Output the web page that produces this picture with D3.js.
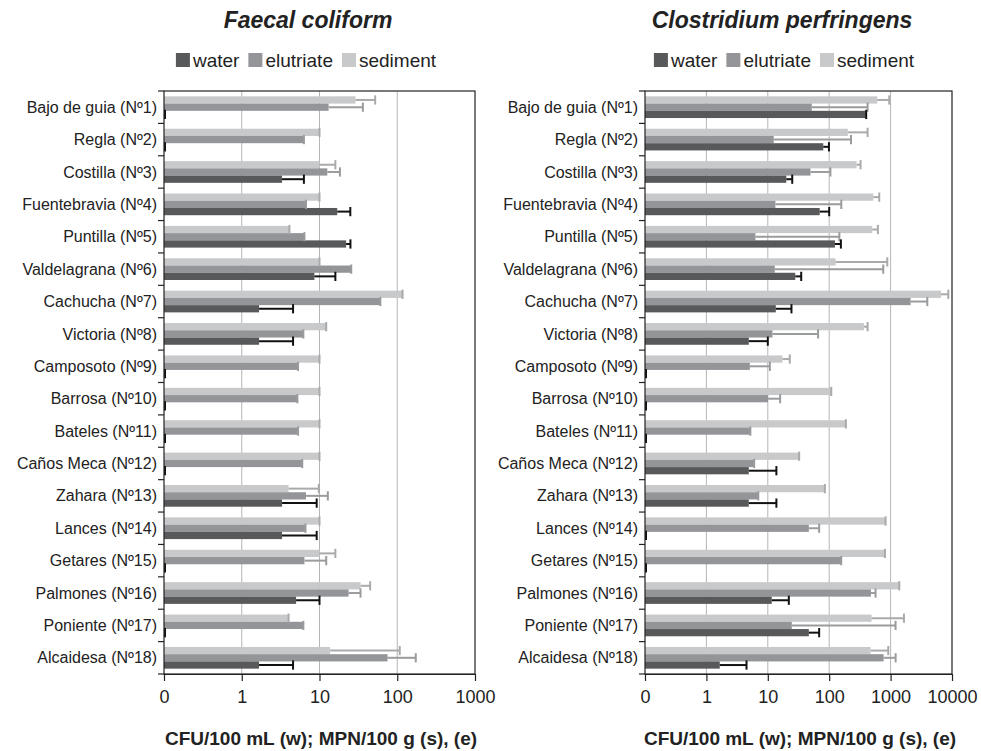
<!DOCTYPE html>
<html>
<head>
<meta charset="utf-8">
<script src="https://cdn.jsdelivr.net/npm/d3@7"></script>
<style>
  body { margin: 0; background: #fff; }
  svg { font-family: "Liberation Sans", Arial, sans-serif; }
</style>
</head>
<body>
<svg id="chart" width="981" height="751"></svg>
<script>
// Sampling sites (top to bottom)
const sites = [
  "Bajo de guia (Nº1)", "Regla (Nº2)", "Costilla (Nº3)", "Fuentebravia (Nº4)",
  "Puntilla (Nº5)", "Valdelagrana (Nº6)", "Cachucha (Nº7)", "Victoria (Nº8)",
  "Camposoto (Nº9)", "Barrosa (Nº10)", "Bateles (Nº11)", "Caños Meca (Nº12)",
  "Zahara (Nº13)", "Lances (Nº14)", "Getares (Nº15)", "Palmones (Nº16)",
  "Poniente (Nº17)", "Alcaidesa (Nº18)"
];

const seriesNames = ["water", "elutriate", "sediment"];

// Faecal coliform values and (upper) error sizes
const fcWater     = [0, 0, 3.3, 16.9, 22, 8.6, 1.67, 1.67, 0, 0, 0, 0, 3.3, 3.3, 0, 5.0, 0, 1.67];
const fcWaterErr  = [0, 0, 3.0, 8.0, 3.0, 7.4, 2.9, 2.9, 0, 0, 0, 0, 5.9, 5.9, 0, 5.0, 0, 2.9];
const fcElut      = [13.1, 6.3, 12.6, 6.7, 6.4, 25.6, 60.6, 6.2, 5.3, 5.2, 5.3, 6.0, 6.7, 6.6, 6.4, 23.7, 6.2, 75];
const fcElutErr   = [23, 0, 5.7, 0, 0, 0, 0, 0, 0, 0, 0, 0, 6.1, 0, 5.8, 10, 0, 98];
const fcSed       = [29, 10, 10, 10, 4.1, 10, 117, 12.2, 10, 10, 10, 10, 4.0, 10, 10, 33.8, 4.0, 13.7];
const fcSedErr    = [23, 0, 6, 0, 0, 0, 0, 0, 0, 0, 0, 0, 5.8, 0, 6, 11, 0, 94];

// Clostridium perfringens values and (upper) error sizes
const cpWater     = [391, 80, 20, 70, 124, 28, 13.5, 4.9, 0, 0, 0, 4.9, 4.9, 0, 0, 11.6, 46.6, 1.65];
const cpWaterErr  = [9, 19, 5, 30, 31, 7, 10.8, 5.1, 0, 0, 0, 8.9, 8.9, 0, 0, 10.4, 22, 2.85];
const cpElut      = [52, 12.5, 49.6, 13.3, 6.3, 13, 2120, 11.9, 5.1, 10.1, 5.2, 6.0, 7.0, 46.6, 157, 478, 24.6, 769];
const cpElutErr   = [370, 214, 55, 144, 140, 746, 1840, 54, 5.7, 5.8, 0, 0, 0, 22, 0, 91, 1180, 438];
const cpSed       = [607, 201, 279, 522, 502, 127, 6620, 367, 17.3, 108, 187, 32.4, 85, 829, 809, 1385, 490, 472];
const cpSedErr    = [344, 221, 45, 131, 119, 756, 2090, 55, 5.5, 0, 0, 0, 0, 0, 0, 0, 1160, 444];

const fcTicks = [0.1, 1, 10, 100, 1000];
const cpTicks = [0.1, 1, 10, 100, 1000, 10000];

const axisTitle = "CFU/100 mL (w); MPN/100 g (s), (e)";

const COLORS = { water: "#58595b", elutriate: "#939598", sediment: "#c8c9cb" };
const ERR_COLORS = { water: "#111", elutriate: "#9a9b9d", sediment: "#a9aaac" };

const svg = d3.select("#chart");
const plotTop = 91, plotBottom = 674;

function buildRows(w, we, e, ee, s, se) {
  return sites.map((site, i) => ({
    site: site,
    values: [
      { key: "sediment", v: s[i], err: se[i] },
      { key: "elutriate", v: e[i], err: ee[i] },
      { key: "water", v: w[i], err: we[i] }
    ]
  }));
}

function drawPanel(opt) {
  const g = svg.append("g");

  const x = d3.scaleLog().domain([opt.ticks[0], opt.ticks[opt.ticks.length - 1]])
    .range([opt.x0, opt.x1]).clamp(true);
  const y = d3.scaleBand().domain(sites).range([plotTop, plotBottom])
    .paddingInner(0.33).paddingOuter(0.165);
  const ySub = d3.scaleBand().domain(["sediment", "elutriate", "water"])
    .range([0, y.bandwidth()]);
  const step = y.step();

  // gridlines
  g.selectAll(".grid").data(opt.ticks.slice(1, -1)).enter().append("line")
    .attr("x1", d => x(d)).attr("x2", d => x(d))
    .attr("y1", plotTop).attr("y2", plotBottom)
    .attr("stroke", "#b5b5b5").attr("stroke-width", 1);

  // bars
  const rowG = g.selectAll(".row").data(opt.rows).enter().append("g")
    .attr("transform", d => `translate(0,${y(d.site)})`);

  rowG.selectAll("rect").data(d => d.values).enter().append("rect")
    .attr("x", opt.x0)
    .attr("y", d => ySub(d.key))
    .attr("height", ySub.bandwidth())
    .attr("width", d => d.v > 0 ? x(d.v) - opt.x0 : 0)
    .attr("fill", d => COLORS[d.key]);

  // error bars (upper only)
  const err = rowG.selectAll(".err").data(d => d.values).enter().append("g");
  err.append("line")
    .attr("x1", d => d.v > 0 ? x(d.v) : opt.x0)
    .attr("x2", d => d.v + d.err > 0 ? x(d.v + d.err) : opt.x0)
    .attr("y1", d => ySub(d.key) + ySub.bandwidth() / 2)
    .attr("y2", d => ySub(d.key) + ySub.bandwidth() / 2)
    .attr("stroke", d => ERR_COLORS[d.key]).attr("stroke-width", 2);
  err.append("line")
    .attr("x1", d => d.v + d.err > 0 ? x(d.v + d.err) : opt.x0 + 1)
    .attr("x2", d => d.v + d.err > 0 ? x(d.v + d.err) : opt.x0 + 1)
    .attr("y1", d => ySub(d.key) - 1)
    .attr("y2", d => ySub(d.key) + ySub.bandwidth() + 1)
    .attr("stroke", d => ERR_COLORS[d.key]).attr("stroke-width", 2);

  // frame
  g.append("rect")
    .attr("x", opt.x0).attr("y", plotTop)
    .attr("width", opt.x1 - opt.x0).attr("height", plotBottom - plotTop)
    .attr("fill", "none").attr("stroke", "#222").attr("stroke-width", 1.2);

  // category ticks on the left
  g.selectAll(".ytick").data(d3.range(sites.length + 1)).enter().append("line")
    .attr("x1", opt.x0 - 6).attr("x2", opt.x0)
    .attr("y1", i => plotTop + i * step).attr("y2", i => plotTop + i * step)
    .attr("stroke", "#222").attr("stroke-width", 1.2);

  g.selectAll(".ylab").data(sites).enter().append("text")
    .attr("x", opt.x0 - 7)
    .attr("y", d => y(d) + y.bandwidth() / 2)
    .attr("dy", "0.35em")
    .attr("text-anchor", "end")
    .attr("font-size", 16).attr("fill", "#222")
    .text(d => d);

  // x axis
  const xAxis = d3.axisBottom(x).tickValues(opt.ticks)
    .tickFormat(d => d < 1 ? "0" : d3.format("d")(d))
    .tickSize(7).tickPadding(9).tickSizeOuter(0);
  const ax = g.append("g").attr("transform", `translate(0,${plotBottom})`).call(xAxis);
  ax.select(".domain").attr("stroke", "#222").attr("stroke-width", 1.2);
  ax.selectAll(".tick line").attr("stroke", "#222").attr("stroke-width", 1.2);
  ax.selectAll(".tick text").attr("font-size", 18).attr("fill", "#222")
    .attr("font-family", "'Liberation Sans', Arial, sans-serif");

  g.append("text")
    .attr("x", (opt.x0 + opt.x1) / 2 + 1.5).attr("y", 745)
    .attr("text-anchor", "middle")
    .attr("font-size", 19).attr("font-weight", "bold").attr("fill", "#222")
    .text(axisTitle);

  // title
  g.append("text")
    .attr("x", opt.titleX).attr("y", 28)
    .attr("text-anchor", "middle")
    .attr("font-size", 23).attr("font-weight", "bold").attr("font-style", "italic")
    .attr("fill", "#222")
    .text(opt.title);

  // legend, centered on legendX
  const leg = g.append("g");
  let cx = 0;
  seriesNames.forEach(name => {
    leg.append("rect").attr("x", cx).attr("y", 53).attr("width", 14).attr("height", 14)
      .attr("fill", COLORS[name]);
    const t = leg.append("text").attr("x", cx + 17).attr("y", 66.5)
      .attr("font-size", 19).attr("fill", "#222").text(name);
    cx += 17 + t.node().getComputedTextLength() + 9;
  });
  leg.attr("transform", `translate(${opt.legendX - (cx - 9) / 2},0)`);
}

drawPanel({
  x0: 164, x1: 475, ticks: fcTicks,
  rows: buildRows(fcWater, fcWaterErr, fcElut, fcElutErr, fcSed, fcSedErr),
  title: "Faecal coliform", titleX: 308, legendX: 306
});

drawPanel({
  x0: 645, x1: 952, ticks: cpTicks,
  rows: buildRows(cpWater, cpWaterErr, cpElut, cpElutErr, cpSed, cpSedErr),
  title: "Clostridium perfringens", titleX: 782, legendX: 784
});
</script>
</body>
</html>
